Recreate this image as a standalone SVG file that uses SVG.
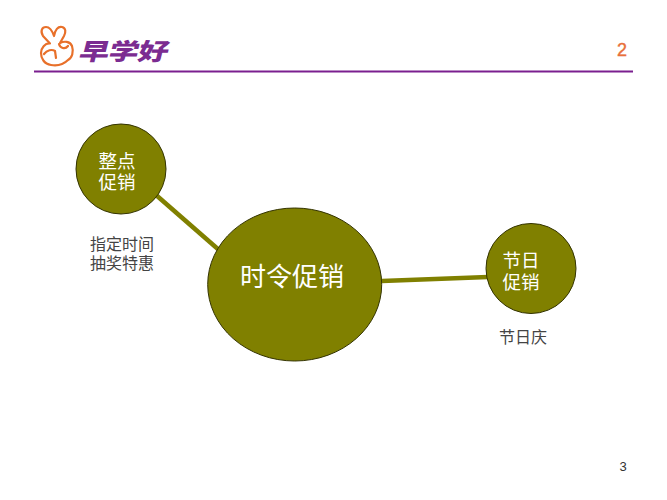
<svg xmlns="http://www.w3.org/2000/svg" width="667" height="500" viewBox="0 0 667 500">
<style>
text{font-family:"Noto Sans CJK SC","Liberation Sans",sans-serif;text-anchor:middle}
.n{fill:#808000;stroke:#333300;stroke-width:1}
.w{fill:#fff;font-size:18.500px}
.d{fill:#444;font-size:16px}
.c{stroke:#808000;stroke-width:4.500;fill:none}
.h{fill:none;stroke:#e8702a;stroke-width:2.200;stroke-linejoin:round;stroke-linecap:round}
</style>
<rect width="667" height="500" fill="#fff"/>
<g id="logo">
<path class="h" d="M50 43.500L43 36C40 31 42 27 46 27C50 27 52 30 54 36C55 30 58 26 62 27C66 28 66 32 64 36L60 43C64 41 70 41 72 46C74 52 72 58 68 60C63 65 57 66 51 65C44 64 41 58 41 53C41 48 45 43 50 43.500Z"/>
<path class="h" d="M44 54C47 50 52 49 55 51L56 58M59 44C60 48 65 50 68 46"/>
<text transform="translate(122 60) skewX(-14) scale(1 .78)" style="font-size:30px;font-weight:900;fill:#7b2c91;letter-spacing:-.5px">早学好</text>
</g>
<path id="rule" d="M34 71.500H633" stroke="#7b1f8f" stroke-width="2" fill="none"/>
<text x="622" y="56" style="font-family:'Liberation Sans',sans-serif;font-size:18px;fill:#e8703a;stroke:#e8703a;stroke-width:.4">2</text>
<g id="connectors">
<path class="c" d="M156 195L219 250"/>
<path class="c" d="M382 281L488 277"/>
</g>
<g id="node-center"><ellipse class="n" cx="294.700" cy="284.500" rx="87" ry="76.500"/><text class="w" x="292" y="286" style="font-size:26px">时令促销</text></g>
<g id="node-top"><circle class="n" cx="121" cy="169" r="45"/><text class="w"><tspan x="117" y="168">整点</tspan><tspan x="117" y="189">促销</tspan></text></g>
<g id="node-right"><circle class="n" cx="531" cy="268.500" r="45"/><text class="w"><tspan x="521" y="267">节日</tspan><tspan x="521" y="289">促销</tspan></text></g>
<g id="label-top"><text class="d"><tspan x="122" y="250">指定时间</tspan><tspan x="122" y="269">抽奖特惠</tspan></text></g>
<g id="label-right"><text class="d" x="523" y="343">节日庆</text></g>
<text x="623" y="471" style="font-family:'Liberation Sans',sans-serif;font-size:13px;fill:#333">3</text>
</svg>
